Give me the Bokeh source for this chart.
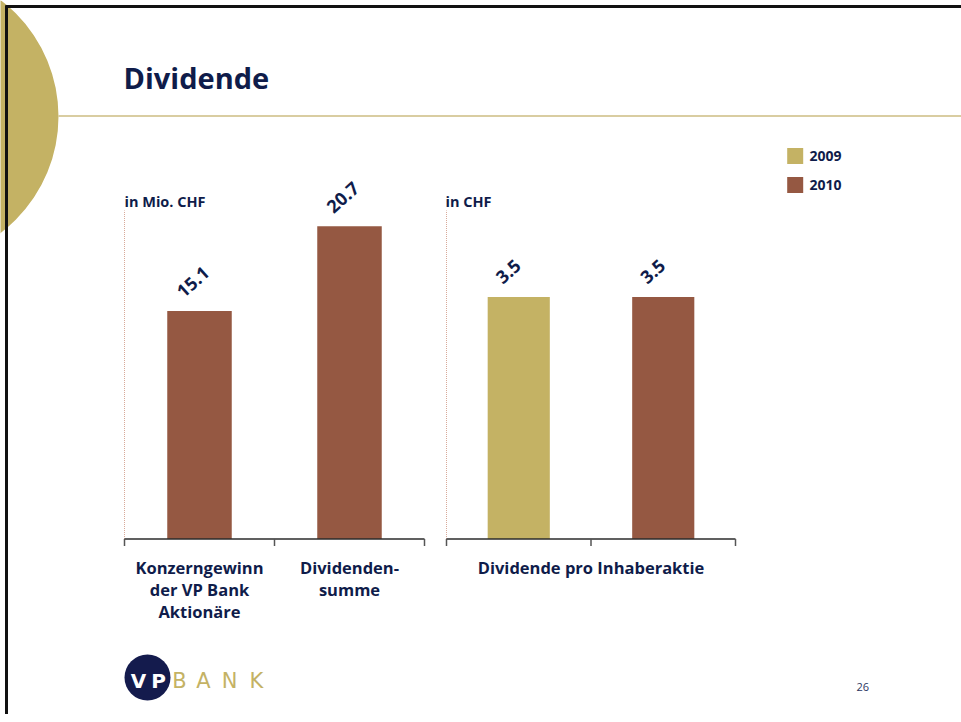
import math
from bokeh.plotting import figure
from bokeh.models import Range1d
from bokeh.core.properties import value
from bokeh.embed import file_html
from bokeh.resources import INLINE

# ---------------- data ----------------
title_text = "Dividende"
years = ["2009", "2010"]
year_colors = ["#C4B264", "#955842"]

chart1_unit = "in Mio. CHF"
chart1_categories = ["Konzerngewinn\nder VP Bank\nAktionäre", "Dividenden-\nsumme"]
chart1_values = [15.1, 20.7]
chart1_years = ["2010", "2010"]

chart2_unit = "in CHF"
chart2_group = "Dividende pro Inhaberaktie"
chart2_years = ["2009", "2010"]
chart2_values = [3.5, 3.5]

page_number = "26"

# ---------------- layout / style ----------------
W, H = 961, 714
NAVY = "#0F1C4A"
GOLD = "#C4B264"
FONT = value("Open Sans")
color_of = dict(zip(years, year_colors))

p = figure(width=W, height=H, x_range=Range1d(0, W), y_range=Range1d(H, 0),
           output_backend="svg", toolbar_location=None, min_border=0,
           outline_line_color=None, background_fill_color="white")
p.axis.visible = False
p.grid.visible = False
p.styles = {"margin-left": "0px", "margin-top": "0px"}

# decorative slide elements (page pixel coordinates)
p.circle(x=[-88], y=[116], radius=146, fill_color=GOLD, line_color=None)
p.segment(x0=[58], y0=[115.5], x1=[W], y1=[115.5], line_color="#CDBD82", line_width=1.5)
p.segment(x0=[5, 6], y0=[6, 5], x1=[W, 6], y1=[6, H], line_color="#111111", line_width=3)

p.text(x=[123], y=[77], text=[title_text], text_font=FONT, text_font_style="bold",
       text_font_size="29px", text_color=NAVY, text_baseline="middle", text_align="left")


def add_chart(name, x_left, x_right, n_units, y_base, y_top, v_top):
    kx = (x_right - x_left) / n_units
    p.extra_x_ranges[name + "x"] = Range1d(-x_left / kx, (W - x_left) / kx)
    ky = (y_base - y_top) / v_top
    p.extra_y_ranges[name + "y"] = Range1d(-(H - y_base) / ky, y_base / ky)
    return dict(x_range_name=name + "x", y_range_name=name + "y")


def draw_chart(rn, values, bar_years, n_units, v_top):
    n = len(values)
    xs = [i + 0.5 for i in range(n)]
    # dotted left line
    p.segment(x0=[0], y0=[0], x1=[0], y1=[v_top], line_color="#D8A999",
              line_dash="1 1", line_width=1, **rn)
    p.vbar(x=xs, top=values, bottom=0, width=0.43,
           fill_color=[color_of[y] for y in bar_years], line_color=None, **rn)
    # baseline + ticks
    p.segment(x0=[0], y0=[0], x1=[n_units], y1=[0], line_color="#2b2b2b", line_width=1.3, **rn)
    p.ray(x=list(range(n_units + 1)), y=[0] * (n_units + 1), length=7, length_units="screen",
          angle=-math.pi / 2, line_color="#555555", line_width=1.5, **rn)
    p.text(x=xs, y=values, text=[f"{v:.1f}" for v in values], angle=math.radians(42),
           text_align="left", text_baseline="middle", x_offset=-20, y_offset=-17,
           text_font=FONT, text_font_style="bold", text_font_size="18px",
           text_color=NAVY, **rn)
    return xs


# chart 1
Y1_TOP = 21.75
rn1 = add_chart("c1", 124, 424, 2, 538.5, 210, Y1_TOP)
xs1 = draw_chart(rn1, chart1_values, chart1_years, 2, Y1_TOP)
p.text(x=xs1, y=[0] * len(xs1), text=chart1_categories, text_align="center",
       text_baseline="top", y_offset=17, text_font=FONT, text_font_style="bold",
       text_font_size="16.5px", text_line_height=0.96, text_color=NAVY, **rn1)

# chart 2
Y2_TOP = 4.75
rn2 = add_chart("c2", 446, 735, 2, 538.5, 210, Y2_TOP)
xs2 = draw_chart(rn2, chart2_values, chart2_years, 2, Y2_TOP)
p.text(x=[len(chart2_values) / 2], y=[0], text=[chart2_group], text_align="center",
       text_baseline="top", y_offset=17, text_font=FONT, text_font_style="bold",
       text_font_size="16.5px", text_color=NAVY, **rn2)

# unit labels
p.text(x=[124, 445], y=[200.5, 200.5], text=[chart1_unit, chart2_unit], text_font=FONT,
       text_font_style="bold", text_font_size="14.5px", text_color=NAVY,
       text_baseline="middle", text_align="left")

# legend
leg_y = [155.5 + 29 * i for i in range(len(years))]
p.rect(x=[794.7] * len(years), y=leg_y, width=16, height=16, fill_color=year_colors,
       line_color=None)
p.text(x=[809] * len(years), y=leg_y, text=years, text_font=FONT,
       text_font_style="bold", text_font_size="14px", text_color=NAVY,
       text_baseline="middle", text_align="left")

# logo
p.circle(x=[147], y=[677], radius=23, fill_color="#141B4D", line_color=None)
p.text(x=[138, 158], y=[680, 680], text=["V", "P"], text_font=value("DejaVu Sans"),
       text_font_style="bold", text_font_size="20px", text_color="white",
       text_align="center", text_baseline="middle")
p.text(x=[179, 203, 229, 256], y=[680] * 4, text=list("BANK"), text_font=value("DejaVu Sans"),
       text_font_size="21px", text_color=GOLD, text_align="center", text_baseline="middle")

# page number
p.text(x=[856], y=[686], text=[page_number], text_font=FONT, text_font_size="11px",
       text_color="#2B3560", text_baseline="middle", text_align="left")

open("out.html", "w").write(file_html(p, INLINE))
